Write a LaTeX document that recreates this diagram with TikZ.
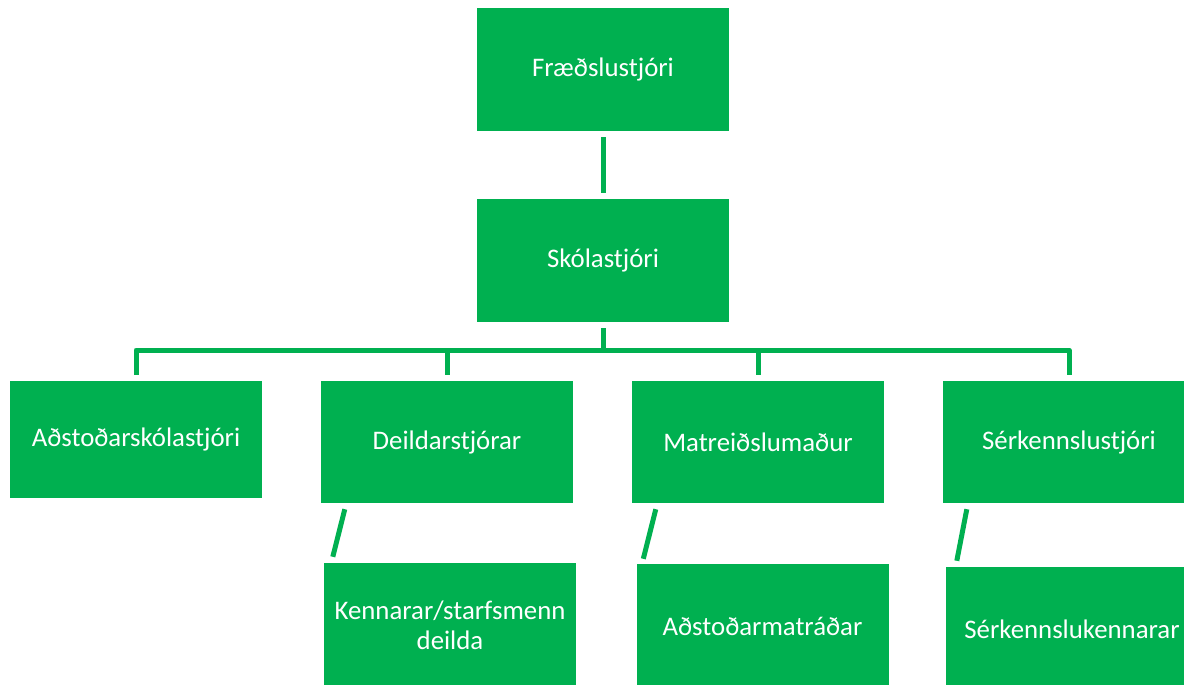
\documentclass[tikz,border=0pt]{standalone}
\usepackage{fontspec}
\setmainfont{Carlito}
\definecolor{boxgreen}{HTML}{00B050}
\tikzset{
  box/.style={fill=boxgreen, text=white, minimum width=252pt, minimum height=122pt,
    inner sep=0pt, align=center, font=\fontsize{26.8}{30}\selectfont},
  link/.style={draw=boxgreen, line width=5pt},
}

\begin{document}
\begin{tikzpicture}[x=1pt,y=-1pt]
\useasboundingbox (0,0) rectangle (1184,685);
\clip (0,0) rectangle (1184,685);

\node[box, minimum height=123pt] (fraedslu) at (603,69.5) {Fræðslustjóri};
\node[box, minimum height=123pt] (skola) at (603,260.5) {Skólastjóri};

\node[box, minimum height=117pt] (adstod) at (136,439.5) {Aðstoðarskólastjóri};
\node[box] (deild) at (447,442) {Deildarstjórar};
\node[box] (matr) at (758,442) {Matreiðslumaður};
\node[box] (serk) at (1069,442) {Sérkennslustjóri};

\node[box, minimum height=124pt] (kenn) at (450,625) {Kennarar/starfsmenn\\deilda};
\node[box, minimum height=124pt] (matrad) at (762.5,626) {Aðstoðarmatráðar};
\node[box, minimum height=124pt] (serkenn) at (1072,629) {Sérkennslukennarar};

\coordinate (bus) at (603,350);

\draw[link] ([yshift=-6pt]fraedslu.south) -- ([yshift=6pt]skola.north);
\draw[link] ([yshift=-6pt]skola.south) -- (bus);
\draw[link, line join=round] ([yshift=6pt]adstod.north) |- (bus) -| ([yshift=6pt]serk.north);
\draw[link] ([yshift=6pt]deild.north) -- (deild.north |- bus);
\draw[link] ([yshift=6pt]matr.north) -- (matr.north |- bus);

\draw[link] ([shift={(24,6)}]deild.south west) -- ([shift={(9,-6)}]kenn.north west);
\draw[link] ([shift={(24,6)}]matr.south west) -- ([shift={(7,-5)}]matrad.north west);
\draw[link] ([shift={(24,6)}]serk.south west) -- ([shift={(11,-6)}]serkenn.north west);

\end{tikzpicture}
\end{document}
